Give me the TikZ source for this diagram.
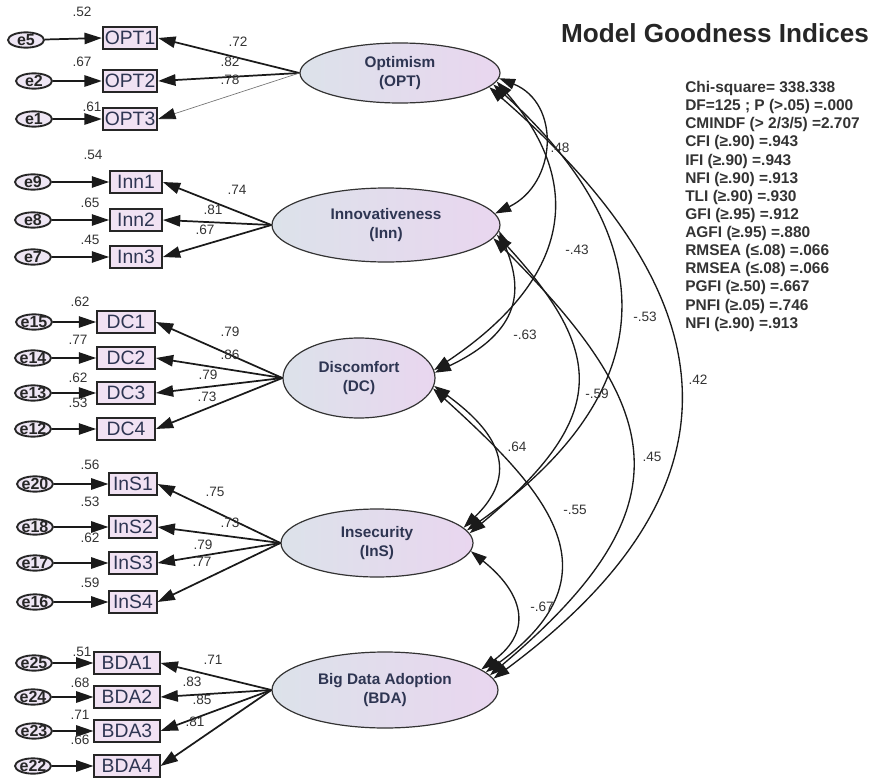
\documentclass[tikz,border=0pt]{standalone}
\usepackage{fontspec}
\setmainfont{Liberation Sans}
\usetikzlibrary{arrows.meta,shapes.geometric}
\definecolor{latL}{HTML}{DCE2EA}
\definecolor{latR}{HTML}{E9D6EF}
\definecolor{boxF}{HTML}{F1E2F3}
\definecolor{errF}{HTML}{EEE6F4}
\definecolor{txtB}{HTML}{2E3552}
\definecolor{numC}{HTML}{333333}
\definecolor{lineC}{HTML}{1A1A1A}
\begin{document}
\begin{tikzpicture}[x=0.75pt,y=-0.75pt,
  lat/.style={ellipse, draw=black!80, line width=0.9pt, left color=latL, right color=latR,
    inner sep=0pt, font=\bfseries\fontsize{11.5}{14.5}\selectfont, text=txtB, align=center},
  ind/.style={rectangle, draw=black!85, line width=1.3pt, fill=boxF, inner sep=0pt,
    minimum height=16.5pt, font=\fontsize{14.5}{16}\selectfont, text=txtB},
  err/.style={ellipse, draw=black!85, line width=1.4pt, fill=errF, inner sep=0pt,
    minimum width=27pt, minimum height=11.5pt},
  errlab/.style={font=\bfseries\fontsize{12}{14}\selectfont, text=black!85, inner sep=0pt},
  num/.style={font=\fontsize{10.2}{12}\selectfont, text=numC, inner sep=0pt},
  load/.style={-{Triangle[length=13pt,width=8.5pt]}, line width=1.3pt, draw=lineC},
  cov/.style={{Triangle[length=12pt,width=8pt]}-{Triangle[length=12pt,width=8pt]}, line width=1pt, draw=lineC}
]
\useasboundingbox (0,0) rectangle (879,778);

% latent variables
\node[lat, minimum width=150pt, minimum height=45pt] (opt) at (400,73) {Optimism\\(OPT)};
\node[lat, minimum width=171pt, minimum height=55.5pt] (inn) at (386,225) {Innovativeness\\(Inn)};
\node[lat, minimum width=114pt, minimum height=60pt] (dc) at (359,378) {Discomfort\\(DC)};
\node[lat, minimum width=144pt, minimum height=51pt] (ins) at (377,543) {Insecurity\\(InS)};
\node[lat, minimum width=169.5pt, minimum height=57pt] (bda) at (385,690) {Big Data Adoption\\(BDA)};

% indicators
\node[ind, minimum width=41pt] (opt1) at (130,38) {OPT1};
\node[ind, minimum width=41pt] (opt2) at (130,81) {OPT2};
\node[ind, minimum width=41pt] (opt3) at (130,119) {OPT3};
\node[ind, minimum width=39pt] (inn1) at (136,182) {Inn1};
\node[ind, minimum width=39pt] (inn2) at (136,220) {Inn2};
\node[ind, minimum width=39pt] (inn3) at (136,257) {Inn3};
\node[ind, minimum width=43.5pt] (dc1) at (126,322) {DC1};
\node[ind, minimum width=43.5pt] (dc2) at (126,358) {DC2};
\node[ind, minimum width=43.5pt] (dc3) at (126,393) {DC3};
\node[ind, minimum width=43.5pt] (dc4) at (126,429) {DC4};
\node[ind, minimum width=35.5pt] (ins1) at (133,484) {InS1};
\node[ind, minimum width=35.5pt] (ins2) at (133,527) {InS2};
\node[ind, minimum width=35.5pt] (ins3) at (133,563) {InS3};
\node[ind, minimum width=35.5pt] (ins4) at (133,602) {InS4};
\node[ind, minimum width=49pt] (bda1) at (127,663) {BDA1};
\node[ind, minimum width=49pt] (bda2) at (127,697) {BDA2};
\node[ind, minimum width=49pt] (bda3) at (127,731) {BDA3};
\node[ind, minimum width=49pt] (bda4) at (127,766) {BDA4};

% error terms
\foreach \n/\x/\y/\b in {e5/26/40/opt1, e2/34/81/opt2, e1/34/119/opt3,
  e9/33/182/inn1, e8/33/220/inn2, e7/33/257/inn3,
  e15/34/322/dc1, e14/33/358/dc2, e13/33/393/dc3, e12/33/429/dc4,
  e20/35/484/ins1, e18/35/527/ins2, e17/35/563/ins3, e16/35/602/ins4,
  e25/34/663/bda1, e24/33/697/bda2, e23/34/731/bda3, e22/33/766/bda4}{
  \node[err, label={[errlab]center:\n}] (\n) at (\x,\y) {};
  \draw[load] (\n) -- (\b.west);
}

% loadings
\draw[load] (opt.west) -- (opt1.east);
\draw[load] (opt.west) -- (opt2.east);
\draw[-{Triangle[length=13pt,width=8.5pt,color=lineC]}, line width=0.5pt, draw=black!55] (opt.west) -- (opt3.east);
\foreach \b in {inn1,inn2,inn3} \draw[load] (inn.west) -- (\b.east);
\foreach \b in {dc1,dc2,dc3,dc4} \draw[load] (dc.west) -- (\b.east);
\foreach \b in {ins1,ins2,ins3,ins4} \draw[load] (ins.west) -- (\b.east);
\foreach \b in {bda1,bda2,bda3,bda4} \draw[load] (bda.west) -- (\b.east);

% covariances
\draw[cov] (opt.-3) .. controls +(62,25) and +(62,-30) .. (inn.6);          % .48
\draw[cov] (opt.-5) .. controls +(100,116) and +(120,-80) .. (dc.6);        % -.43
\draw[cov] (opt.-7) .. controls +(165,150) and +(205,-145) .. (ins.8);      % -.53
\draw[cov] (opt.-9) .. controls +(230,200) and +(270,-200) .. (bda.6);      % .42
\draw[cov] (inn.-3) .. controls +(20,50) and +(95,-45) .. (dc.4);           % -.63
\draw[cov] (inn.-5) .. controls +(110,120) and +(138,-115) .. (ins.6);      % -.59
\draw[cov] (inn.-7) .. controls +(170,170) and +(202,-170) .. (bda.8);      % .45
\draw[cov] (dc.-6) .. controls +(55,40) and +(62,-60) .. (ins.10);          % .64
\draw[cov] (dc.-8) .. controls +(110,100) and +(138,-100) .. (bda.10);      % -.55
\draw[cov] (ins.-5) .. controls +(50,40) and +(54,-40) .. (bda.12);         % -.67

% numbers
\foreach \t/\x/\y [count=\i] in {.72/238/42, .82/230/62, .78/230/80,
  .74/237/190, .81/213/210, .67/205/230,
  .79/230/332, .86/230/355, .79/208/375, .73/207/397,
  .75/215/492, .73/230/523, .79/203/545, .77/202/562,
  .71/213/660, .83/192/682, .85/202/700, .81/195/722,
  .52/82/12, .67/82/62, .61/92/107,
  .54/93/155, .65/90/203, .45/90/240,
  .62/80/302, .77/78/340, .62/78/378, .53/78/403,
  .56/90/465, .53/90/502, .62/90/538, .59/90/583,
  .51/82/652, .68/80/683, .71/80/715, .66/80/740,
  .48/560/148, -.43/577/250, -.53/645/317, .42/698/380, -.63/525/335,
  -.59/597/394, .45/652/457, .64/517/447, -.55/575/510, -.67/542/607}
  \node[num] (n\i) at (\x,\y) {\t};

% title and fit indices
\node[font=\bfseries\fontsize{19.6}{22}\selectfont, text=black!85, inner sep=0pt] (title) at (715,33) {Model Goodness Indices};
\node[font=\bfseries\fontsize{11.6}{13.6}\selectfont, text=black!80, inner sep=0pt, align=left, anchor=north west] (fit) at (685,81) {%
Chi-square= 338.338\\
DF=125 ; P (>.05) =.000\\
CMINDF (> 2/3/5) =2.707\\
CFI (≥.90) =.943\\
IFI (≥.90) =.943\\
NFI (≥.90) =.913\\
TLI (≥.90) =.930\\
GFI (≥.95) =.912\\
AGFI (≥.95) =.880\\
RMSEA (≤.08) =.066\\
RMSEA (≤.08) =.066\\
PGFI (≥.50) =.667\\
PNFI (≥.05) =.746\\
NFI (≥.90) =.913};
\end{tikzpicture}
\end{document}
